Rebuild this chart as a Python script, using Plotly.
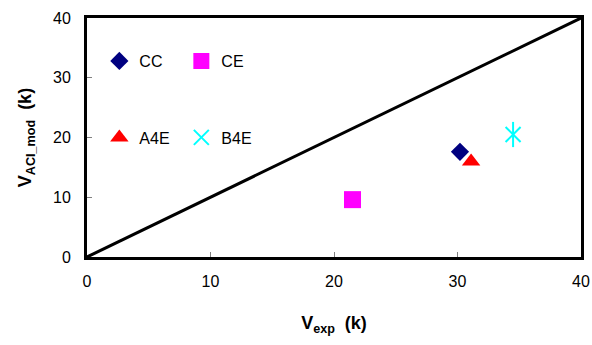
import plotly.graph_objects as go

# Experimental vs. predicted shear capacity (kips)
specimens = ["CC", "CE", "A4E", "B4E"]
v_exp = [30.2, 21.5, 31.1, 34.5]
v_aci_mod = [17.6, 9.6, 16.0, 20.5]
colors = ["#000080", "#FF00FF", "#FF0000", "#00FFFF"]
symbols = ["diamond", "square", "triangle-up", "x-thin-open"]
sizes = [14, 17, 16, 15]
legend_ids = ["legend", "legend", "legend2", "legend2"]

# 1:1 reference line
line_x = [0, 40]
line_y = [0, 40]

axis_ticks = [0, 10, 20, 30, 40]

fig = go.Figure()
fig.add_trace(go.Scatter(
    x=line_x, y=line_y, mode="lines",
    line=dict(color="black", width=3),
    showlegend=False, hoverinfo="skip",
))

for name, xv, yv, c, s, sz, lg in zip(specimens, v_exp, v_aci_mod, colors,
                                       symbols, sizes, legend_ids):
    marker = dict(color=c, symbol=s, size=sz)
    if s.endswith("-open"):
        marker["line"] = dict(color=c, width=2)
        # vertical stroke completes the six-armed star
        fig.add_trace(go.Scatter(
            x=[xv], y=[yv], mode="markers", showlegend=False,
            legendgroup=name, hoverinfo="skip",
            marker=dict(symbol="line-ns-open", size=sz + 3, color=c,
                        line=dict(color=c, width=2)),
        ))
    fig.add_trace(go.Scatter(
        x=[xv], y=[yv], mode="markers", name=name, legendgroup=name,
        marker=marker, legend=lg,
    ))

font_family = "Liberation Sans, Arial, sans-serif"
legend_style = dict(
    orientation="h", xanchor="left", yanchor="middle",
    bgcolor="rgba(0,0,0,0)", font=dict(size=16, color="black", family=font_family),
    entrywidth=37, entrywidthmode="pixels", tracegroupgap=0,
)

fig.update_layout(
    width=592, height=345, autosize=False,
    margin=dict(l=87, r=11, t=18, b=88, autoexpand=False),
    plot_bgcolor="white", paper_bgcolor="white",
    font=dict(family=font_family, size=16, color="black"),
    legend=dict(x=0.025, y=0.82, **legend_style),
    legend2=dict(x=0.025, y=0.5, **legend_style),
    xaxis=dict(
        range=[0, 40], tickvals=axis_ticks, ticks="inside", ticklen=5,
        tickcolor="#808080", tickwidth=1, showgrid=False, zeroline=False,
        showline=True, linecolor="black", linewidth=3, mirror=True,
        ticklabelstandoff=8, automargin=False,
        title=dict(text="<b>V<sub>exp</sub>  (k)</b>", standoff=28,
                   font=dict(size=18)),
    ),
    yaxis=dict(
        range=[0, 40], tickvals=axis_ticks, ticks="inside", ticklen=5,
        tickcolor="#808080", tickwidth=1, showgrid=False, zeroline=False,
        showline=True, linecolor="black", linewidth=3, mirror=True,
        ticklabelstandoff=10, automargin=False,
        title=dict(text="<b>V<sub>ACI_mod</sub>  (k)</b>", standoff=17,
                   font=dict(size=18)),
    ),
)

fig.write_html("out.html")
